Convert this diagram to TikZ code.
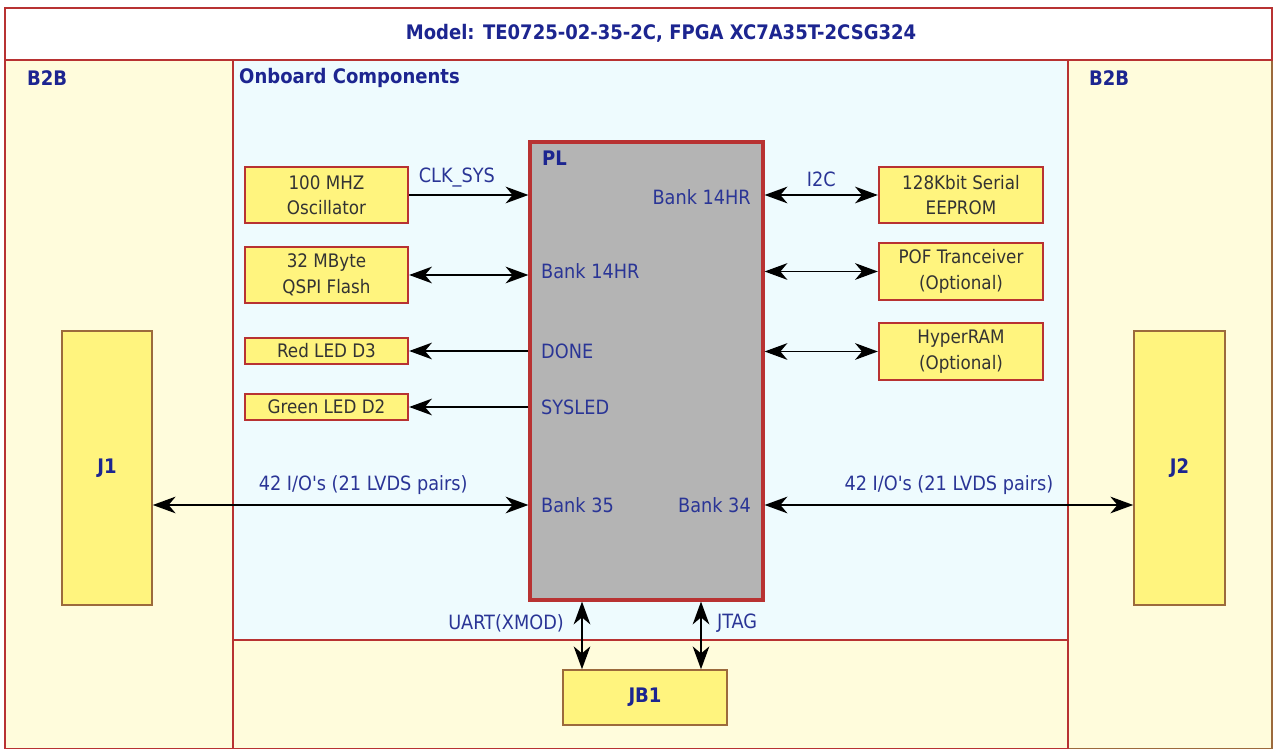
\documentclass[tikz,border=0pt]{standalone}
\usepackage{fontspec}
\setmainfont{DejaVu Sans Condensed}
\usepackage{tikz}
\usetikzlibrary{fit,positioning,arrows.meta}

\definecolor{frame}{HTML}{B83232}
\definecolor{brownline}{HTML}{9C6A3C}
\definecolor{txtblue}{HTML}{2A3596}
\definecolor{navy}{HTML}{1C2590}
\definecolor{boxfill}{HTML}{FFF47E}
\definecolor{bbfill}{HTML}{FFFCDC}
\definecolor{cyanfill}{HTML}{EEFBFE}
\definecolor{plgray}{HTML}{B4B4B4}

\tikzset{
  region/.style={draw=frame, line width=1.2pt, inner sep=0pt},
  compbox/.style={draw=frame, line width=1.3pt, fill=boxfill, inner sep=0pt,
    text=black!80, align=center, font=\fontsize{10.6}{14.5}\selectfont},
  connbox/.style={draw=brownline, line width=0.9pt, fill=boxfill, inner sep=0pt},
  title/.style={text=navy, font=\fontsize{11.4}{13}\selectfont\bfseries},
  lbl/.style={text=txtblue, font=\fontsize{11.2}{13}\selectfont},
  sig/.style={line width=0.8pt, -{Stealth[length=13pt,width=9.5pt,inset=4pt]}},
  bus/.style={line width=0.8pt, {Stealth[length=13pt,width=9.5pt,inset=4pt]}-{Stealth[length=13pt,width=9.5pt,inset=4pt]}},
}

\begin{document}
\begin{tikzpicture}[x=0.02cm,y=-0.02cm]
  \useasboundingbox (0,0) rectangle (1276,749);

  % Background regions
  \node[region, fill=bbfill, fit={(5,60) (233,749)}] (b2bl) {};
  \node[region, draw=brownline, fill=bbfill, fit={(1068,60) (1272,749)}] (b2br) {};
  \node[region, fill=bbfill, fit={(233,640) (1068,749)}] (bottom) {};
  \node[region, fill=cyanfill, fit={(233,60) (1068,640)}] (onboard) {};
  \node[region, fill=white, fit={(5,8) (1272,60)}] (banner) {};
  \node[title] (model) at (661,33) {Model: TE0725-02-35-2C, FPGA XC7A35T-2CSG324};

  % Region titles
  \node[title, anchor=west] (b2bltitle) at (21,78) {B2B};
  \node[title, anchor=west] (onboardtitle) at (233,78) {Onboard Components};
  \node[title, anchor=west] (b2brtitle) at (1083,78) {B2B};

  % FPGA
  \node[draw=frame, line width=1.8pt, fill=plgray, inner sep=0pt, fit={(530,142) (763,600)}] (pl) {};
  \node[title, anchor=west] (pltitle) at (536,158) {PL};

  % Components on the left
  \node[compbox, fit={(245,167) (408,223)}] (osc) {};
  \node[compbox, draw=none, fill=none] at (osc.center) {100 MHZ\\Oscillator};
  \node[compbox, fit={(245,247) (408,303)}] (qspi) {};
  \node[compbox, draw=none, fill=none] at (qspi.center) {32 MByte\\QSPI Flash};
  \node[compbox, fit={(245,338) (408,364)}] (redled) {};
  \node[compbox, draw=none, fill=none] at (redled.center) {Red LED D3};
  \node[compbox, fit={(245,394) (408,420)}] (greenled) {};
  \node[compbox, draw=none, fill=none] at (greenled.center) {Green LED D2};

  % Components on the right
  \node[compbox, fit={(879,167) (1043,223)}] (eeprom) {};
  \node[compbox, draw=none, fill=none] at (eeprom.center) {128Kbit Serial\\EEPROM};
  \node[compbox, fit={(879,243) (1043,300)}] (pof) {};
  \node[compbox, draw=none, fill=none] at (pof.center) {POF Tranceiver\\(Optional)};
  \node[compbox, fit={(879,323) (1043,380)}] (hyperram) {};
  \node[compbox, draw=none, fill=none] at (hyperram.center) {HyperRAM\\(Optional)};

  % Connectors
  \node[connbox, fit={(62,331) (152,605)}] (j1) {};
  \node[title] at (j1.center) {J1};
  \node[connbox, fit={(1134,331) (1225,605)}] (j2) {};
  \node[title] at (j2.center) {J2};
  \node[connbox, fit={(563,670) (727,725)}] (jb1) {};
  \node[title] at (jb1.center) {JB1};

  % Bank labels
  \node[lbl, anchor=west] (bank14l) at (535,271) {Bank 14HR};
  \node[lbl, anchor=west] (done) at (535,351) {DONE};
  \node[lbl, anchor=west] (sysled) at (535,407) {SYSLED};
  \node[lbl, anchor=west] (bank35) at (535,505) {Bank 35};
  \node[lbl, anchor=east] (bank14r) at (757,197) {Bank 14HR};
  \node[lbl, anchor=east] (bank34) at (757,505) {Bank 34};

  % Signals
  \draw[sig] (osc.east) -- (osc.east -| pl.west) node[lbl, pos=0.4, above=1pt] (clk) {CLK\_SYS};
  \draw[bus] (qspi.east) -- (qspi.east -| pl.west);
  \draw[sig] (redled.east -| pl.west) -- (redled.east);
  \draw[sig] (greenled.east -| pl.west) -- (greenled.east);
  \draw[bus] (eeprom.west -| pl.east) -- (eeprom.west) node[lbl, midway, above=1pt] (i2c) {I2C};
  \draw[bus] (pof.west -| pl.east) -- (pof.west);
  \draw[bus] (hyperram.west -| pl.east) -- (hyperram.west);
  \draw[bus] (j1.east |- bank35) -- (pl.west |- bank35) node[lbl, pos=0.56, above=2pt] (iol) {42 I/O\textquotesingle s (21 LVDS pairs)};
  \draw[bus] (pl.east |- bank34) -- (j2.west |- bank34) node[lbl, midway, above=2pt] (ior) {42 I/O\textquotesingle s (21 LVDS pairs)};

  % Debug port
  \coordinate (uartx) at (582,0);
  \coordinate (jtagx) at (701,0);
  \draw[bus] (pl.south -| uartx) -- (jb1.north -| uartx);
  \draw[bus] (pl.south -| jtagx) -- (jb1.north -| jtagx);
  \node[lbl, anchor=east] (uart) at (570,623) {UART(XMOD)};
  \node[lbl, anchor=west] (jtag) at (711,623) {JTAG};
\end{tikzpicture}
\end{document}
